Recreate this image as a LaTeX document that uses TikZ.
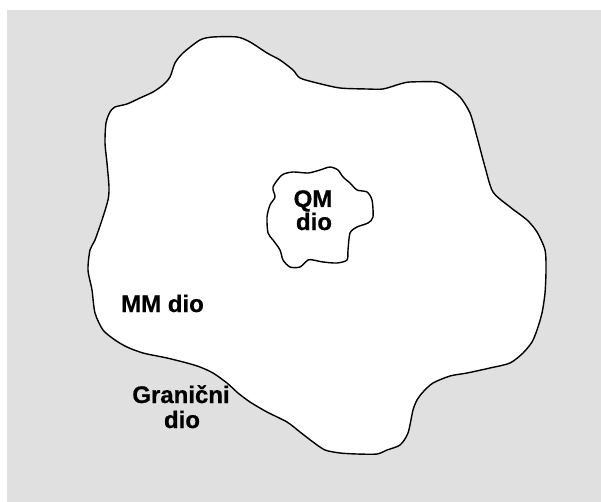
\documentclass[tikz,border=0pt]{standalone}
\usepackage{fontspec}
\setmainfont{Liberation Sans}[BoldFeatures={FakeBold=0.6}]
\definecolor{bggray}{RGB}{224,224,224}
\begin{document}
\begin{tikzpicture}[x=1pt,y=-1pt,
  outline/.style={draw=black,line width=1.4pt,fill=white,line join=round},
  lbl/.style={font=\fontsize{24}{26}\selectfont\bfseries,inner sep=0pt,text=black}]
\useasboundingbox (0,0) rectangle (601,502);
\fill[white] (0,0) rectangle (601,502);
\fill[bggray] (7,10) rectangle (601,502);
% MM region
\draw[outline] plot[smooth cycle,tension=0.45] coordinates {
(200,40)(213,37)(237,37)(250,42)(267,53)(280,60)(293,70)(300,78)(317,83)(340,88)(367,89)(383,89)(400,84)(410,82)(437,82)(447,87)(460,97)(470,113)(477,137)(485,167)(493,192)(510,207)(527,220)(537,232)(545,250)(546,270)(545,293)(542,313)(537,330)(532,342)(523,353)(510,363)(490,368)(467,373)(450,376)(433,383)(423,392)(417,400)(413,410)(408,433)(400,445)(387,450)(377,454)(357,454)(340,453)(325,450)(313,442)(300,432)(287,422)(267,412)(250,402)(238,393)(227,383)(213,373)(200,367)(187,363)(167,358)(143,353)(127,347)(115,340)(103,330)(95,313)(92,290)(88,270)(90,250)(95,240)(102,220)(108,200)(109,187)(107,163)(105,143)(106,123)(110,112)(115,107)(127,104)(140,98)(153,92)(163,85)(170,77)(175,63)(183,53)};
% QM region
\draw[outline] plot[smooth cycle,tension=0.45] coordinates {
(282,175)(293,172)(308,173)(320,170)(330,167)(338,170)(343,177)(350,183)(357,190)(367,192)(372,200)(373,217)(368,223)(357,227)(350,233)(348,250)(347,260)(337,263)(323,262)(313,260)(308,260)(300,267)(290,267)(283,260)(280,250)(273,240)(268,233)(267,217)(270,205)(275,197)(273,187)};
\node[lbl,anchor=base] (qm) at (313,207) {QM};
\node[lbl,anchor=base] (qmdio) at (314,230) {dio};
\node[lbl,anchor=base west] (mm) at (121,312) {MM dio};
\node[lbl,anchor=base] (gr) at (181,403) {Granični};
\node[lbl,anchor=base] (grdio) at (182,428) {dio};
\end{tikzpicture}
\end{document}
